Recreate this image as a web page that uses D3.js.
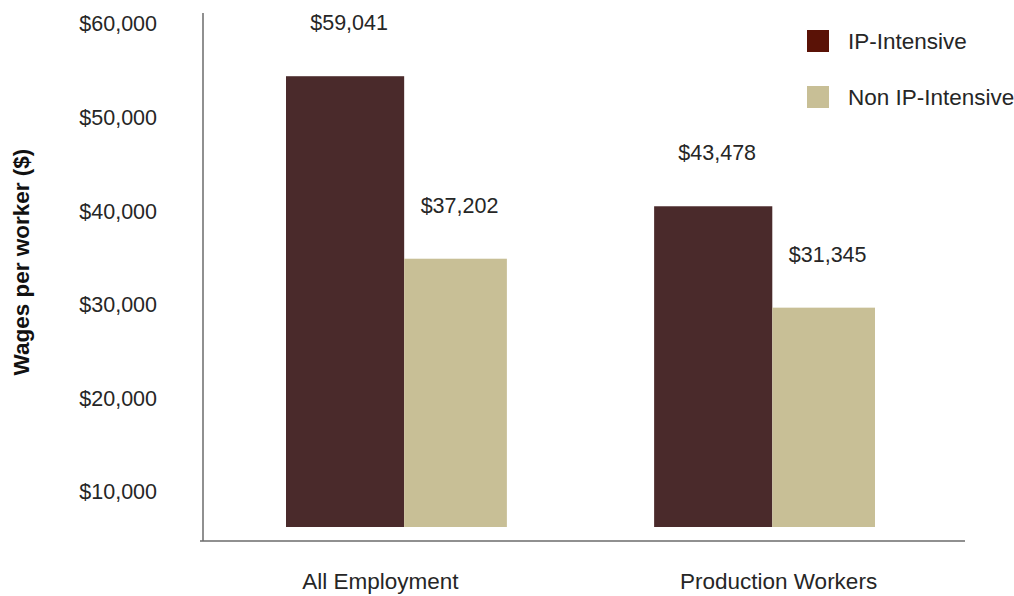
<!DOCTYPE html>
<html>
<head>
<meta charset="utf-8">
<script src="https://cdn.jsdelivr.net/npm/d3@7"></script>
<style>
  html, body { margin: 0; padding: 0; background: #ffffff; }
  svg { display: block; font-family: "Liberation Sans", Arial, Helvetica, sans-serif; }
</style>
</head>
<body>
<svg id="chart" width="1014" height="596"></svg>
<script>
// Average wages per worker, IP-intensive vs non IP-intensive industries
const categories = ["All Employment", "Production Workers"];
const seriesNames = ["IP-Intensive", "Non IP-Intensive"];
const ipIntensive = [59041, 43478];
const nonIpIntensive = [37202, 31345];
const tickValues = [10000, 20000, 30000, 40000, 50000, 60000];

const seriesValues = [ipIntensive, nonIpIntensive];
const barColors = ["#4a2a2b", "#c8bf96"];
const legendColors = ["#5a1206", "#c8bf96"];
const textColor = "#262626";

const svg = d3.select("#chart");
const fmt = v => "$" + d3.format(",")(v);

// Plot frame
const axisX = 203, axisTop = 13, axisBottom = 541, axisRight = 965;
const barFloor = 527;

// Category bands and the split of each band between the two series
const x = d3.scaleBand().domain(categories).range([286, 875]).paddingInner(0.4).paddingOuter(0);
const seriesShare = [0.535, 0.465];

// Value scale for the bars
const yBar = d3.scaleLinear().domain([0, 60000]).range([569.6, 68.2]);
// Scale placing the axis labels
const yAxis = d3.scaleLinear().domain([10000, 60000]).range([492, 24]);

// Axis lines
svg.append("line")
  .attr("x1", axisX).attr("x2", axisX).attr("y1", axisTop).attr("y2", axisBottom)
  .attr("stroke", "#6b6b6b").attr("stroke-width", 1.5);
svg.append("line")
  .attr("x1", axisX - 3).attr("x2", axisRight).attr("y1", axisBottom).attr("y2", axisBottom)
  .attr("stroke", "#6b6b6b").attr("stroke-width", 1.5);

// Y axis labels
const yG = svg.append("g")
  .attr("transform", `translate(${axisX - 46},0)`)
  .call(d3.axisLeft(yAxis).tickValues(tickValues).tickSize(0).tickPadding(0).tickFormat(fmt));
yG.select(".domain").remove();
yG.selectAll("text")
  .attr("fill", textColor)
  .style("font-size", "21.5px")
  .style("font-family", "'Liberation Sans', Arial, sans-serif");

// Y title
svg.append("text")
  .attr("transform", "translate(29,262) rotate(-90)")
  .attr("text-anchor", "middle")
  .attr("fill", "#111")
  .style("font-size", "22.5px")
  .style("font-weight", "bold")
  .text("Wages per worker ($)");

// Bars and value labels
categories.forEach((cat, ci) => {
  const band = x(cat), bw = x.bandwidth();
  let offset = 0;
  seriesValues.forEach((vals, si) => {
    const w = bw * seriesShare[si];
    const x0 = band + offset;
    const v = vals[ci];
    const top = yBar(v);
    svg.append("rect")
      .attr("x", x0).attr("y", top)
      .attr("width", w).attr("height", barFloor - top)
      .attr("fill", barColors[si]);
    svg.append("text")
      .attr("x", x0 + w / 2 + 4)
      .attr("y", top - 46)
      .attr("text-anchor", "middle")
      .attr("fill", textColor)
      .style("font-size", "21.5px")
      .text(fmt(v));
    offset += w;
  });
  // Category label
  svg.append("text")
    .attr("x", band + bw / 2 - 16 + ci * 30)
    .attr("y", 589)
    .attr("text-anchor", "middle")
    .attr("fill", textColor)
    .style("font-size", "22.5px")
    .text(cat);
});

// Legend
const legend = svg.append("g").attr("transform", "translate(807,30)");
seriesNames.forEach((name, i) => {
  const g = legend.append("g").attr("transform", `translate(0,${i * 56})`);
  g.append("rect").attr("width", 22).attr("height", 22).attr("fill", legendColors[i]);
  g.append("text")
    .attr("x", 41).attr("y", 11)
    .attr("dy", "0.36em")
    .attr("fill", textColor)
    .style("font-size", "22.5px")
    .text(name);
});
</script>
</body>
</html>
